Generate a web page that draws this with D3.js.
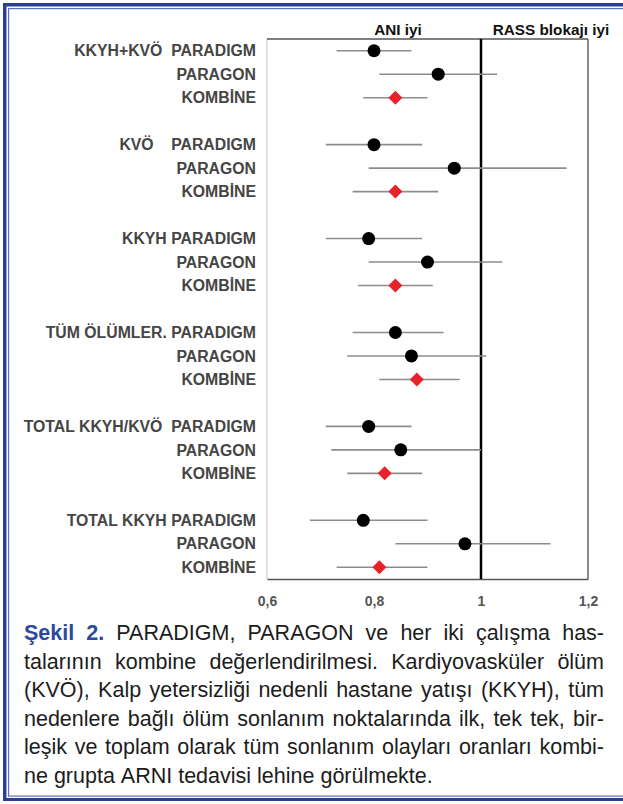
<!DOCTYPE html>
<html>
<head>
<meta charset="utf-8">
<script src="https://cdn.jsdelivr.net/npm/d3@7"></script>
<style>
  html, body { margin: 0; padding: 0; background: #fff; }
  svg { display: block; }
  text { font-family: "Liberation Sans", Arial, Helvetica, sans-serif; }
</style>
</head>
<body>
<svg id="chart" width="623" height="804"></svg>
<script>
// Endpoint groups (prefix shown on the first row of each block)
const groups = ["KKYH+KVÖ  ", "KVÖ    ", "KKYH ", "TÜM ÖLÜMLER. ", "TOTAL KKYH/KVÖ  ", "TOTAL KKYH "];
const studies = ["PARADIGM", "PARAGON", "KOMBİNE"];

// Hazard ratios with 95% CI, ordered group by group, study by study
const hr    = [0.80, 0.92, 0.84,  0.80, 0.95, 0.84,  0.79, 0.90, 0.84,  0.84, 0.87, 0.88,  0.79, 0.85, 0.82,  0.78, 0.97, 0.81];
const lower = [0.73, 0.81, 0.78,  0.71, 0.79, 0.76,  0.71, 0.79, 0.77,  0.76, 0.75, 0.81,  0.71, 0.72, 0.75,  0.68, 0.84, 0.73];
const upper = [0.87, 1.03, 0.90,  0.89, 1.16, 0.92,  0.89, 1.04, 0.91,  0.93, 1.01, 0.96,  0.87, 1.00, 0.89,  0.90, 1.13, 0.90];

const xTicks = [0.6, 0.8, 1.0, 1.2];
const xTickLabels = ["0,6", "0,8", "1", "1,2"];
const headers = ["ANI iyi", "RASS blokajı iyi"];

const captionLines = [
  "Şekil 2. PARADIGM, PARAGON ve her iki çalışma has-",
  "talarının kombine değerlendirilmesi. Kardiyovasküler ölüm",
  "(KVÖ), Kalp yetersizliği nedenli hastane yatışı (KKYH), tüm",
  "nedenlere bağlı ölüm sonlanım noktalarında ilk, tek tek, bir-",
  "leşik ve toplam olarak tüm sonlanım olayları oranları kombi-",
  "ne grupta ARNI tedavisi lehine görülmekte."
];

const svg = d3.select("#chart");

// ---- page frame (double blue rule on top, left and bottom) ----
const frame = svg.append("g");
frame.append("rect").attr("x", 0).attr("y", 0).attr("width", 623).attr("height", 804).attr("fill", "#fff");
frame.append("rect").attr("x", 3).attr("y", 3).attr("width", 620).attr("height", 3.5).attr("fill", "#2c3f93");
frame.append("rect").attr("x", 3).attr("y", 3).attr("width", 3.5).attr("height", 798).attr("fill", "#2c3f93");
frame.append("rect").attr("x", 8).attr("y", 8).attr("width", 615).attr("height", 1.2).attr("fill", "#5a72bd");
frame.append("rect").attr("x", 8).attr("y", 8).attr("width", 1.2).attr("height", 788).attr("fill", "#5a72bd");
frame.append("rect").attr("x", 8).attr("y", 795.5).attr("width", 615).attr("height", 1.2).attr("fill", "#5a72bd");
frame.append("rect").attr("x", 3).attr("y", 798).attr("width", 620).attr("height", 3).attr("fill", "#2c3f93");

// ---- scales ----
const plot = { left: 267, right: 588, top: 39, bottom: 579 };
const x = d3.scaleLinear().domain([0.6, 1.2]).range([plot.left, plot.right]);
const nSlots = groups.length * 4 - 1;
const y = d3.scaleBand().domain(d3.range(nSlots)).range([plot.top, plot.bottom]).padding(0);

const rows = hr.map((v, i) => {
  const g = Math.floor(i / studies.length), s = i % studies.length;
  return { g, s, hr: v, lo: lower[i], hi: upper[i], slot: g * 4 + s,
           label: (s === 0 ? groups[g] : "") + studies[s] };
});
const yc = d => y(d.slot) + y.bandwidth() / 2;

// ---- plot box ----
svg.append("line").attr("x1", plot.left).attr("x2", plot.left).attr("y1", plot.top).attr("y2", plot.bottom)
  .attr("stroke", "#cfcfcf").attr("stroke-width", 1.2);
svg.append("line").attr("x1", plot.left).attr("x2", plot.right).attr("y1", plot.top).attr("y2", plot.top)
  .attr("stroke", "#555").attr("stroke-width", 1.3);
svg.append("line").attr("x1", plot.right).attr("x2", plot.right).attr("y1", plot.top).attr("y2", plot.bottom)
  .attr("stroke", "#666").attr("stroke-width", 1.5);

// x axis along the bottom of the box
const xAxis = svg.append("g").attr("transform", `translate(0,${plot.bottom})`)
  .call(d3.axisBottom(x).tickValues(xTicks).tickSize(0).tickPadding(17)
        .tickFormat((d, i) => xTickLabels[i]));
xAxis.select(".domain").attr("stroke", "#555").attr("stroke-width", 1.6);
xAxis.selectAll("text").attr("font-size", 14).attr("font-weight", "bold").attr("fill", "#555")
  .attr("font-family", "'Liberation Sans', Arial, sans-serif");

// line of no effect
svg.append("line").attr("x1", x(1)).attr("x2", x(1)).attr("y1", plot.top).attr("y2", plot.bottom)
  .attr("stroke", "#000").attr("stroke-width", 2.5);

// headers above the box
svg.selectAll("text.hdr").data(headers).join("text").attr("class", "hdr")
  .attr("x", (d, i) => i === 0 ? 398 : 551).attr("y", 35)
  .attr("text-anchor", "middle").attr("font-size", 15.3).attr("font-weight", "bold").attr("fill", "#111")
  .text(d => d);

// row labels
svg.selectAll("text.lbl").data(rows).join("text").attr("class", "lbl")
  .attr("x", 256).attr("y", yc).attr("dy", "0.36em")
  .attr("text-anchor", "end").attr("font-size", 15.8).attr("font-weight", "bold").attr("fill", "#454545")
  .style("white-space", "pre").attr("xml:space", "preserve")
  .text(d => d.label);

// confidence intervals
svg.selectAll("line.ci").data(rows).join("line").attr("class", "ci")
  .attr("x1", d => x(d.lo)).attr("x2", d => x(d.hi)).attr("y1", yc).attr("y2", yc)
  .attr("stroke", "#8c8c8c").attr("stroke-width", 1.6);

// study estimates: black dots, pooled estimate: red diamond
svg.selectAll("circle.pt").data(rows.filter(d => d.s < 2)).join("circle").attr("class", "pt")
  .attr("cx", d => x(d.hr)).attr("cy", yc).attr("r", 6.5).attr("fill", "#000");
const dm = 7;
svg.selectAll("path.dia").data(rows.filter(d => d.s === 2)).join("path").attr("class", "dia")
  .attr("d", d => { const cx = x(d.hr), cy = yc(d);
    return `M${cx},${cy - dm}L${cx + dm},${cy}L${cx},${cy + dm}L${cx - dm},${cy}Z`; })
  .attr("fill", "#e8212b");

// ---- caption, justified between the margins ----
const capLeft = 24, capRight = 604, capTop = 640, capLead = 28.6, capSize = 21.5;
const cap = svg.append("g");
captionLines.forEach((line, li) => {
  const words = line.split(" ");
  const nodes = words.map((w, wi) => {
    const bold = li === 0 && wi < 2;
    return cap.append("text").attr("y", capTop + li * capLead)
      .attr("font-size", capSize).attr("font-weight", bold ? "bold" : "normal")
      .attr("fill", bold ? "#2b4a9b" : "#1c1c1c").text(w);
  });
  const widths = nodes.map(n => n.node().getComputedTextLength());
  const total = d3.sum(widths);
  const space = capSize * 0.278;
  const last = li === captionLines.length - 1;
  let gap = last ? space : (capRight - capLeft - total) / (words.length - 1);
  let squeeze = 1;
  if (!last && gap < space * 0.8) {
    // line too long: keep a minimal word gap and compress glyphs horizontally
    gap = space * 0.8;
    squeeze = (capRight - capLeft - gap * (words.length - 1)) / total;
  }
  let cx = capLeft;
  nodes.forEach((n, i) => {
    const w = widths[i] * squeeze;
    n.attr("x", cx);
    if (squeeze !== 1) n.attr("textLength", w).attr("lengthAdjust", "spacingAndGlyphs");
    cx += w + gap;
  });
});
</script>
</body>
</html>
